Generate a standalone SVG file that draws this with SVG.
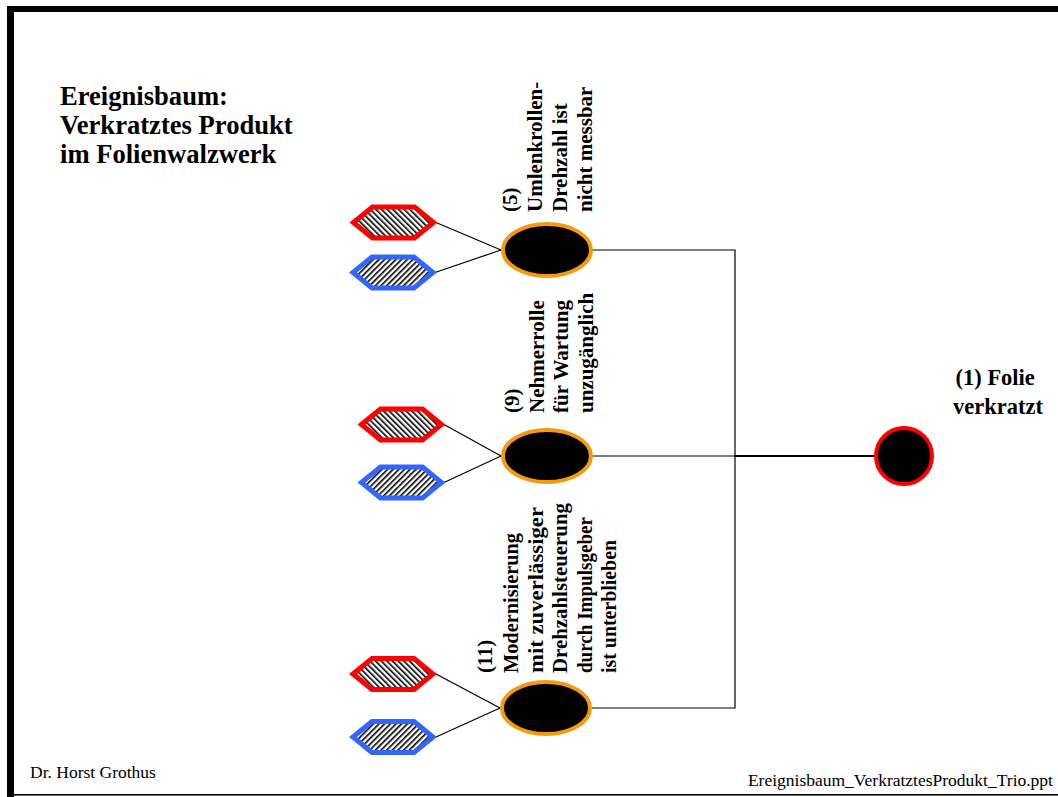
<svg xmlns="http://www.w3.org/2000/svg" width="1058" height="797" viewBox="0 0 1058 797">
  <style>
    .lbl { font-family: "Liberation Serif", "Times New Roman", serif; font-weight: bold; fill: #000; }
    .foot { font-family: "Liberation Serif", "Times New Roman", serif; font-size: 17.5px; fill: #000; }
    .evt { fill: #000; stroke: #F59A0C; stroke-width: 4; }
    .top { fill: #000; stroke: #FF0000; stroke-width: 4; }
    .hexR { fill: url(#hatchBack); stroke: #FF0000; stroke-width: 5; }
    .hexB { fill: url(#hatchFwd); stroke: #3366FF; stroke-width: 5; }
    .wire { fill: none; stroke: #000; stroke-width: 1.2; }
  </style>
  <defs>
    <!-- "\\\\" hatching -->
    <pattern id="hatchBack" patternUnits="userSpaceOnUse" width="4" height="4" patternTransform="rotate(-45)">
      <rect width="4" height="4" fill="#fff"/>
      <rect x="0" y="0" width="1.6" height="4" fill="#000"/>
    </pattern>
    <!-- "////" hatching -->
    <pattern id="hatchFwd" patternUnits="userSpaceOnUse" width="4" height="4" patternTransform="rotate(45)">
      <rect width="4" height="4" fill="#fff"/>
      <rect x="0" y="0" width="1.6" height="4" fill="#000"/>
    </pattern>
    <polygon id="hex" points="-40,0 -21,-15.5 21,-15.5 40,0 21,15.5 -21,15.5"/>
  </defs>

  <rect width="1058" height="797" fill="#fff"/>

  <!-- slide frame -->
  <g id="frame">
    <rect x="7" y="6" width="1051" height="6" fill="#000"/>
    <rect x="7" y="6" width="7" height="791" fill="#000"/>
    <rect x="7" y="794" width="1051" height="1.6" fill="#000"/>
  </g>

  <!-- title -->
  <g id="title" class="lbl" font-size="26.6">
    <text x="60" y="105">Ereignisbaum:</text>
    <text x="60" y="134">Verkratztes Produkt</text>
    <text x="60" y="163">im Folienwalzwerk</text>
  </g>

  <!-- connectors -->
  <g id="connectors">
    <line class="wire" x1="436" y1="222.5" x2="501" y2="250"/>
    <line class="wire" x1="435" y1="272.5" x2="501" y2="250"/>
    <line class="wire" x1="444" y1="424.5" x2="501" y2="456"/>
    <line class="wire" x1="444" y1="482.5" x2="501" y2="456"/>
    <line class="wire" x1="436" y1="674" x2="500" y2="708"/>
    <line class="wire" x1="436" y1="737" x2="500" y2="708"/>
    <polyline class="wire" points="592,250 735,250 735,708 592,708"/>
    <line class="wire" x1="592" y1="456" x2="735" y2="456"/>
    <line x1="735" y1="456" x2="876" y2="456" stroke="#000" stroke-width="2"/>
  </g>

  <!-- event (5) -->
  <g id="event5">
    <use href="#hex" class="hexR" x="393.5" y="222.5"/>
    <use href="#hex" class="hexB" x="393" y="272.5"/>
    <ellipse class="evt" cx="547" cy="250" rx="44" ry="26"/>
    <text class="lbl" font-size="21" transform="translate(0,212) rotate(-90)">
      <tspan x="0" y="517">(5)</tspan>
      <tspan x="0" y="542">Umlenkrollen-</tspan>
      <tspan x="0" y="567">Drehzahl ist</tspan>
      <tspan x="0" y="592">nicht messbar</tspan>
    </text>
  </g>

  <!-- event (9) -->
  <g id="event9">
    <use href="#hex" class="hexR" x="401.5" y="424.5"/>
    <use href="#hex" class="hexB" x="401.5" y="482.5"/>
    <ellipse class="evt" cx="547" cy="456" rx="44" ry="26"/>
    <text class="lbl" font-size="21" transform="translate(0,413) rotate(-90)">
      <tspan x="0" y="519">(9)</tspan>
      <tspan x="0" y="544">Nehmerrolle</tspan>
      <tspan x="0" y="568">für Wartung</tspan>
      <tspan x="0" y="593">unzugänglich</tspan>
    </text>
  </g>

  <!-- event (11) -->
  <g id="event11">
    <use href="#hex" class="hexR" x="393" y="674"/>
    <use href="#hex" class="hexB" x="393" y="737"/>
    <ellipse class="evt" cx="546" cy="708" rx="44" ry="26"/>
    <g class="lbl" font-size="20" transform="translate(0,673) rotate(-90)">
      <text x="0" y="492" textLength="33" lengthAdjust="spacingAndGlyphs">(11)</text>
      <text x="0" y="518" textLength="140" lengthAdjust="spacingAndGlyphs">Modernisierung</text>
      <text x="0" y="543" textLength="166" lengthAdjust="spacingAndGlyphs">mit zuverlässiger</text>
      <text x="0" y="567" textLength="170" lengthAdjust="spacingAndGlyphs">Drehzahlsteuerung</text>
      <text x="0" y="592" textLength="156" lengthAdjust="spacingAndGlyphs">durch Impulsgeber</text>
      <text x="0" y="616" textLength="133" lengthAdjust="spacingAndGlyphs">ist unterblieben</text>
    </g>
  </g>

  <!-- top event (1) -->
  <g id="event1">
    <circle class="top" cx="904" cy="456" r="28"/>
    <text class="lbl" font-size="22.5" text-anchor="middle">
      <tspan x="998" y="385">(1) Folie</tspan>
      <tspan x="998" y="414">verkratzt</tspan>
    </text>
  </g>

  <!-- footer -->
  <g id="footer">
    <text class="foot" x="30" y="778">Dr. Horst Grothus</text>
    <text class="foot" x="1053" y="786" text-anchor="end">Ereignisbaum_VerkratztesProdukt_Trio.ppt</text>
  </g>
</svg>
